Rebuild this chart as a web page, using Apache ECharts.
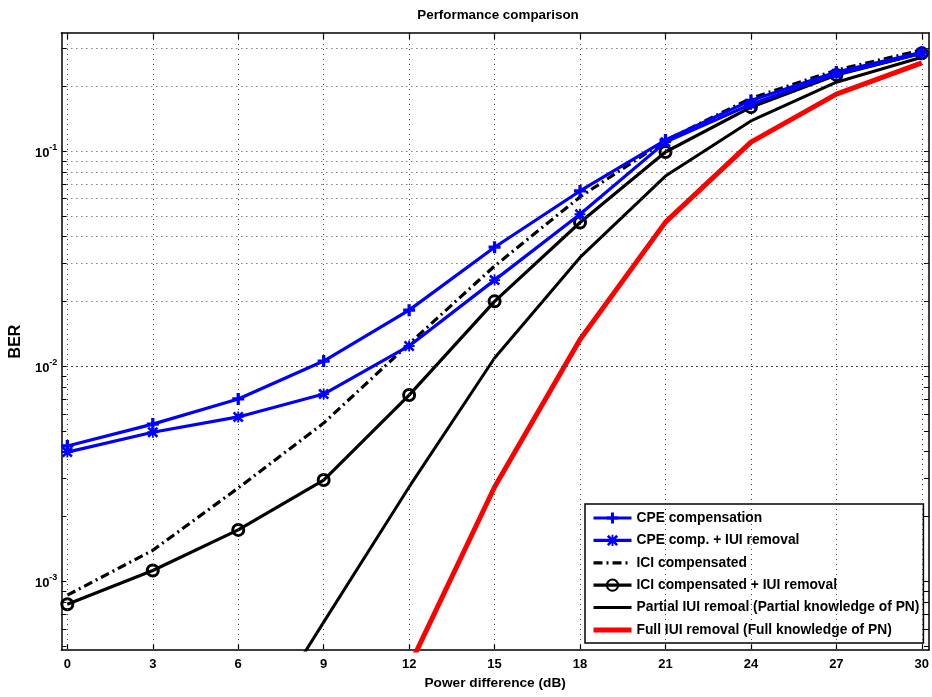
<!DOCTYPE html>
<html>
<head>
<meta charset="utf-8">
<script src="https://cdn.jsdelivr.net/npm/echarts@6/dist/echarts.min.js"></script>
<style>html,body{margin:0;padding:0;background:#fff}#c{width:932px;height:697px}</style>
</head>
<body>
<div id="c"></div>
<script>
// ---- data ----
const xTicks = [0, 3, 6, 9, 12, 15, 18, 21, 24, 27, 30];
const cpeX = [0, 3, 6, 9, 12, 15, 18, 21, 24, 27, 30];
const cpe = [4.25e-3, 5.37e-3, 7.03e-3, 1.055e-2, 1.82e-2, 3.57e-2, 6.52e-2, 0.1125, 0.172, 0.233, 0.288];
const cpeIuiX = [0, 3, 6, 9, 12, 15, 18, 21, 24, 27, 30];
const cpeIui = [3.98e-3, 4.92e-3, 5.8e-3, 7.41e-3, 1.24e-2, 2.51e-2, 5.08e-2, 0.11, 0.165, 0.228, 0.285];
const iciX = [0, 3, 6, 9, 12, 15, 18, 21, 24, 27, 30];
const ici = [8.6e-4, 1.39e-3, 2.71e-3, 5.43e-3, 1.27e-2, 2.92e-2, 6.12e-2, 0.112, 0.176, 0.238, 0.295];
const iciIuiX = [0, 3, 6, 9, 12, 15, 18, 21, 24, 27, 30];
const iciIui = [7.8e-4, 1.12e-3, 1.73e-3, 2.95e-3, 7.33e-3, 2.0e-2, 4.65e-2, 0.099, 0.16, 0.226, 0.285];
const partialX = [6, 9, 12, 15, 18, 21, 24, 27, 30];
const partial = [1.5e-4, 6.44e-4, 2.74e-3, 1.09e-2, 3.2e-2, 7.65e-2, 0.138, 0.209, 0.273];
const fullX = [12, 15, 18, 21, 24, 27, 30];
const full = [4.0e-4, 2.74e-3, 1.33e-2, 4.67e-2, 0.110, 0.184, 0.257];
const yMajor = [1e-3, 1e-2, 1e-1];
const yMinor = [5e-4, 6e-4, 7e-4, 8e-4, 9e-4, 1e-3, 2e-3, 3e-3, 4e-3, 5e-3, 6e-3, 7e-3, 8e-3, 9e-3,
  1e-2, 2e-2, 3e-2, 4e-2, 5e-2, 6e-2, 7e-2, 8e-2, 9e-2, 0.1, 0.2, 0.3];
const names = ['CPE compensation', 'CPE comp. + IUI removal', 'ICI compensated',
  'ICI compensated + IUI removal', 'Partial IUI remoal (Partial knowledge of PN)',
  'Full IUI removal (Full knowledge of PN)'];
const title = 'Performance comparison';
const xName = 'Power difference (dB)';
const yName = 'BER';

const X_MIN = -0.21, X_MAX = 30.25, Y_MIN = 4.78e-4, Y_MAX = 0.354;
const FONT = '"Liberation Sans", Arial, sans-serif';

const zip = (xs, ys) => xs.map((x, i) => [x, ys[i]]);
const PLUS = 'path://M4,0H7V4H11V7H7V11H4V7H0V4H4Z';
const STAR = 'path://M5,0H7V5H12V7H7V12H5V7H0V5H5Z M2,0L12,10L10,12L0,2Z M10,0L12,2L2,12L0,10Z';
const CLEAR = 'rgba(0,0,0,0)';

const gridStyle = { color: '#444', width: 1, type: [1, 4] };

const chart = echarts.init(document.getElementById('c'), null, { renderer: 'canvas' });
function supLabel(v) {
  const e = Math.round(Math.log10(v));
  if (Math.abs(Math.log10(v) - e) > 1e-6) return '';
  return '{b|10}{s|' + e + '}';
}
const axisText = { fontFamily: FONT, fontWeight: 'bold', fontSize: 13, color: '#000' };
chart.setOption({
  animation: false,
  backgroundColor: '#fff',
  title: {
    text: title, left: 493, top: 4, textAlign: 'center',
    textStyle: { fontFamily: FONT, fontWeight: 'bold', fontSize: 13.4, color: '#000' }
  },
  grid: { left: 56, right: 1, top: 33, bottom: 47, containLabel: false },
  legend: {
    data: names,
    orient: 'vertical', left: 585, top: 504,
    itemWidth: 38, itemHeight: 14, itemGap: 8.4,
    padding: [7, 4, 6, 6],
    backgroundColor: '#fff', borderColor: '#000', borderWidth: 1.5,
    lineStyle: { width: 'inherit' },
    textStyle: { fontFamily: FONT, fontWeight: 'bold', fontSize: 13.8, color: '#000' },
    selectedMode: false
  },
  xAxis: [{
    type: 'value', min: X_MIN, max: X_MAX, position: 'bottom',
    name: xName, nameLocation: 'middle', nameGap: 26,
    nameTextStyle: { fontFamily: FONT, fontWeight: 'bold', fontSize: 13.7, color: '#000' },
    axisLine: { onZero: false, lineStyle: { color: '#000', width: 1.5 } },
    axisTick: { inside: true, length: 6, customValues: xTicks, lineStyle: { color: '#000', width: 1.2 } },
    axisLabel: Object.assign({ customValues: xTicks, margin: 8 }, axisText),
    splitLine: { show: false }
  }, {
    type: 'value', min: X_MIN, max: X_MAX, position: 'top',
    axisLine: { onZero: false, lineStyle: { color: '#000', width: 1.5 } },
    axisTick: { inside: true, length: 6, customValues: xTicks, lineStyle: { color: '#000', width: 1.2 } },
    axisLabel: { show: false },
    splitLine: { show: false }
  }],
  yAxis: [{
    type: 'log', logBase: 10, min: Y_MIN, max: Y_MAX, position: 'left',
    name: yName, nameLocation: 'middle', nameGap: 30, nameRotate: 90,
    nameTextStyle: { fontFamily: FONT, fontWeight: 'bold', fontSize: 16, color: '#000' },
    axisLine: { onZero: false, lineStyle: { color: '#000', width: 1.5 } },
    axisTick: { inside: true, length: 5, customValues: yMinor, lineStyle: { color: '#000', width: 1 } },
    axisLabel: {
      customValues: yMajor, margin: 4, formatter: supLabel,
      rich: {
        b: { fontFamily: FONT, fontWeight: 'bold', fontSize: 13, color: '#000', verticalAlign: 'bottom' },
        s: { fontFamily: FONT, fontWeight: 'bold', fontSize: 9, color: '#000', verticalAlign: 'top', padding: [0, 0, 8, 0] }
      }
    },
    splitLine: { show: false }
  }, {
    type: 'log', logBase: 10, min: Y_MIN, max: Y_MAX, position: 'right',
    axisLine: { onZero: false, lineStyle: { color: '#000', width: 1.5 } },
    axisTick: { inside: true, length: 5, customValues: yMinor, lineStyle: { color: '#000', width: 1 } },
    axisLabel: { show: false },
    splitLine: { show: false }
  }],
  series: [
    {
      name: 'grid', type: 'line', data: [], z: 1, silent: true,
      markLine: {
        silent: true, symbol: 'none', animation: false,
        label: { show: false },
        lineStyle: gridStyle,
        data: xTicks.map(v => ({ xAxis: v })).concat(yMinor.map(v => ({ yAxis: v })))
      }
    },
    {
      name: names[5], type: 'line', data: zip(fullX, full), symbol: 'circle', showSymbol: false,
      lineStyle: { color: '#ff0000', width: 5 }, itemStyle: { color: CLEAR, borderColor: CLEAR }, z: 3
    },
    {
      name: names[4], type: 'line', data: zip(partialX, partial), symbol: 'circle', showSymbol: false,
      lineStyle: { color: '#000', width: 3 }, itemStyle: { color: CLEAR, borderColor: CLEAR }, z: 3
    },
    {
      name: names[3], type: 'line', data: zip(iciIuiX, iciIui), symbol: 'circle', symbolSize: 11,
      lineStyle: { color: '#000', width: 3.2 },
      itemStyle: { color: CLEAR, borderColor: '#000', borderWidth: 3 }, z: 4
    },
    {
      name: names[2], type: 'line', data: zip(iciX, ici), symbol: 'circle', showSymbol: false,
      lineStyle: { color: '#000', width: 3.2, type: [9, 4, 2, 4] }, itemStyle: { color: CLEAR, borderColor: CLEAR }, z: 4
    },
    {
      name: names[1], type: 'line', data: zip(cpeIuiX, cpeIui), symbol: STAR, symbolSize: 11,
      lineStyle: { color: '#0000ff', width: 3.2 }, itemStyle: { color: '#0000ff' }, z: 5
    },
    {
      name: names[0], type: 'line', data: zip(cpeX, cpe), symbol: PLUS, symbolSize: 12,
      lineStyle: { color: '#0000ff', width: 3.2 }, itemStyle: { color: '#0000ff' }, z: 5
    }
  ]
});
</script>
</body>
</html>
